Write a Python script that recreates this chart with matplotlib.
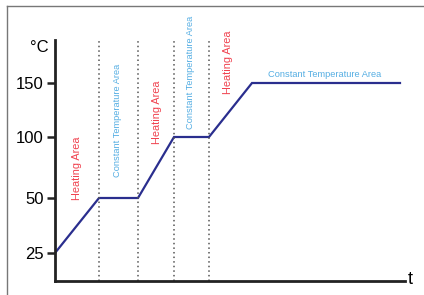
import numpy as np
import matplotlib
matplotlib.use('Agg')
import matplotlib.pyplot as plt
from matplotlib.lines import Line2D

# 温度曲线数据（示意图，时间为任意单位）
times = [0, 44, 83, 119, 154, 197, 345]
temps = [25, 50, 50, 100, 100, 150, 150]
# 区域分界线
bounds = [44, 83, 119, 154]
# 纵轴刻度及其在图上的位置（示意图，刻度不等距）
tick_vals = [25, 50, 100, 150]
tick_pos = [28, 83, 144, 198]

RED = '#f0424f'
BLUE = '#55aee3'
NAVY = '#2a2e8e'
NARROW = ['Liberation Sans Narrow', 'Liberation Sans', 'DejaVu Sans']


def _pw(v, xs, ys):
    v = np.asarray(v, dtype=float)
    out = np.interp(v, xs, ys)
    lo = v < xs[0]
    hi = v > xs[-1]
    out = np.where(lo, ys[0] + (v - xs[0]) * (ys[1] - ys[0]) / (xs[1] - xs[0]), out)
    out = np.where(hi, ys[-1] + (v - xs[-1]) * (ys[-1] - ys[-2]) / (xs[-1] - xs[-2]), out)
    return out


def fwd(v):
    return _pw(v, tick_vals, tick_pos)


def inv(p):
    return _pw(p, tick_pos, tick_vals)


fig = plt.figure(figsize=(4.24, 2.95), dpi=100)
ax = fig.add_axes([55 / 424, 14 / 295, 350 / 424, 241 / 295])
ax.set_yscale('function', functions=(fwd, inv))

ax.plot(times, temps, color=NAVY, lw=1.6, solid_joinstyle='miter')
for b in bounds:
    ax.axvline(b, color='#555555', lw=1.1, ls=(0, (1, 2)))

ax.set_xlim(0, 350)
ax.set_ylim(float(inv(0)), float(inv(241)))
ax.set_yticks(tick_vals)
ax.set_yticklabels([str(v) for v in tick_vals], family='Liberation Sans', fontsize=12)
ax.set_xticks([])
ax.tick_params(axis='y', direction='out', length=6, width=1.8, color='#222222', pad=2)
for s in ['top', 'right']:
    ax.spines[s].set_visible(False)
for s in ['left', 'bottom']:
    ax.spines[s].set_color('#222222')
    ax.spines[s].set_linewidth(2)

# 区域文字
labels = [
    ('Heating Area', RED, 0.063, 0.469, 90, 7.8),
    ('Constant Temperature Area', BLUE, 0.18, 0.668, 90, 6.7),
    ('Heating Area', RED, 0.291, 0.701, 90, 7.8),
    ('Constant Temperature Area', BLUE, 0.386, 0.867, 90, 6.7),
    ('Heating Area', RED, 0.494, 0.909, 90, 7.8),
    ('Constant Temperature Area', BLUE, 0.771, 0.855, 0, 6.7),
]
for txt, c, x, y, rot, fs in labels:
    ax.text(x, y, txt, color=c, rotation=rot, transform=ax.transAxes,
            ha='center', va='center', family=NARROW, fontsize=fs)

fig.text(39 / 424, 1 - 48 / 295, '°C', family='Liberation Sans', fontsize=12,
         ha='center', va='center')
fig.text(410 / 424, 1 - 280 / 295, 't', family='Liberation Sans', fontsize=13,
         ha='center', va='center')

# 外框
fig.add_artist(Line2D([6.5 / 424, 6.5 / 424], [0, 1 - 5.5 / 295], color='#777777', lw=1))
fig.add_artist(Line2D([6.5 / 424, 1], [1 - 5.5 / 295, 1 - 5.5 / 295], color='#777777', lw=1))

fig.savefig('out.png', dpi=100)
